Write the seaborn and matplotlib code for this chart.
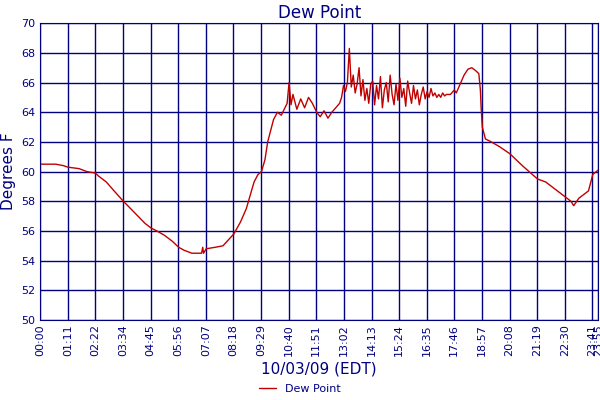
import matplotlib
matplotlib.use("Agg")
import matplotlib.pyplot as plt
import pandas as pd
import seaborn as sns

NAVY = "#000080"
RED = "#c00000"

# smooth part of the day: (minute, dew point F)
base_minutes = [0, 40, 60, 71, 100, 120, 142, 150, 170, 190, 214, 240, 270, 285, 300, 320, 340, 356,
                370, 390, 415, 418, 420, 427, 450, 470, 498, 515, 530, 550, 560, 569, 578, 585, 600,
                610, 620, 635, 640, 645, 650, 660, 670, 680, 690, 700, 711, 720, 730, 740, 750, 760, 770]
base_values = [60.5, 60.5, 60.4, 60.3, 60.2, 60.0, 59.9, 59.7, 59.3, 58.7, 58.0, 57.3, 56.5, 56.2, 56.0,
               55.7, 55.3, 54.9, 54.7, 54.5, 54.5, 54.9, 54.5, 54.8, 54.9, 55.0, 55.8, 56.6, 57.5, 59.3,
               59.8, 60.0, 60.8, 62.0, 63.5, 64.0, 63.8, 64.6, 66.0, 64.5, 65.2, 64.2, 64.9, 64.3, 65.0,
               64.6, 64.0, 63.7, 64.1, 63.6, 64.0, 64.3, 64.6]

# noisy afternoon, roughly every 5 minutes
noisy_minutes = list(range(775, 1050, 5))
noisy_values = [65.0, 65.8, 65.4, 66.0, 68.3, 65.7, 66.5, 65.3, 65.9, 67.0, 65.1, 66.2, 64.8, 65.6,
                64.6, 65.9, 66.1, 64.5, 65.8, 64.9, 66.4, 64.3, 65.5, 66.0, 64.7, 66.5, 65.2, 64.5,
                65.9, 64.8, 66.3, 65.0, 65.6, 64.4, 66.1, 65.3, 64.6, 65.8, 64.9, 65.5, 64.5, 65.2,
                65.7, 64.9, 65.4, 65.0, 65.6, 65.1, 65.3, 65.0, 65.2, 65.0, 65.3, 65.1, 65.2]

late_minutes = [1055, 1065, 1070, 1080, 1090, 1100, 1110, 1120, 1128, 1132, 1134, 1137, 1145, 1160,
                1180, 1208, 1240, 1270, 1279, 1300, 1320, 1350, 1365, 1372, 1385, 1400, 1410, 1421,
                1430, 1435]
late_values = [65.2, 65.5, 65.3, 65.9, 66.5, 66.9, 67.0, 66.8, 66.6, 65.5, 64.3, 63.0, 62.2, 62.0,
               61.7, 61.2, 60.4, 59.7, 59.5, 59.3, 58.9, 58.3, 58.0, 57.7, 58.2, 58.5, 58.7, 59.8,
               60.0, 60.1]

tick_minutes = [i * 71 for i in range(21)] + [1435]
tick_labels = ["00:00", "01:11", "02:22", "03:34", "04:45", "05:56", "07:07", "08:18", "09:29",
               "10:40", "11:51", "13:02", "14:13", "15:24", "16:35", "17:46", "18:57", "20:08",
               "21:19", "22:30", "23:41", "23:55"]

df = pd.DataFrame({
    "minute": base_minutes + noisy_minutes + late_minutes,
    "dew": base_values + noisy_values + late_values,
})

sns.set_style("white")
fig = plt.figure(figsize=(6, 4), dpi=100)
ax = fig.add_axes([0.067, 0.2, 0.93, 0.742])
sns.lineplot(data=df, x="minute", y="dew", ax=ax, color=RED, linewidth=1, label="Dew Point")

ax.set_xlim(0, 1435)
ax.set_ylim(50, 70)
ax.set_yticks(range(50, 71, 2))
ax.set_xticks(tick_minutes)
ax.set_xticklabels(tick_labels, rotation=90, fontsize=8, color=NAVY)
ax.tick_params(axis="y", labelsize=8, labelcolor=NAVY, length=0)
ax.tick_params(axis="x", length=0, pad=3)
ax.grid(True, color=NAVY, linewidth=1)
for s in ax.spines.values():
    s.set_color(NAVY)
ax.set_title("Dew Point", color=NAVY, fontsize=12, pad=4)
ax.set_xlabel("10/03/09 (EDT)", color=NAVY, fontsize=11, labelpad=4)
ax.set_ylabel("Degrees F", color=NAVY, fontsize=11)
handles, labels = ax.get_legend_handles_labels()
ax.get_legend().remove()
fig.legend(handles, labels, loc="lower center", bbox_to_anchor=(0.5, -0.01), frameon=False,
           fontsize=8, labelcolor=NAVY, handlelength=1.5)

fig.savefig("out.png", dpi=100)
